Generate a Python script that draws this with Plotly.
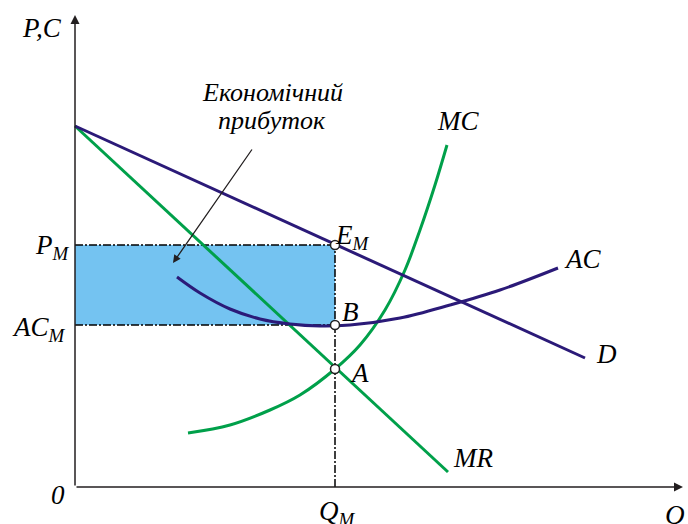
import plotly.graph_objects as go

# ---- data (economic units) ----
q_D = [0.0, 51.0]
p_D = [36.1, 12.9]

q_MR = [0.0, 37.3]
p_MR = [36.1, 1.5]

q_MC = [11.3, 15.5, 19.5, 22.5, 26.0, 28.5, 31.0, 33.0, 34.5, 36.0, 37.2]
p_MC = [5.4, 6.2, 7.7, 9.2, 11.8, 14.2, 17.7, 21.7, 25.7, 30.2, 34.2]

q_AC = [10.2, 12.5, 15.5, 18.5, 21.5, 24.5, 27.5, 32.5, 37.5, 42.5, 48.3]
p_AC = [21.0, 19.4, 17.8, 16.8, 16.3, 16.1, 16.2, 16.9, 18.2, 19.7, 21.9]

Q_M = 26.0
P_M = 24.2
AC_M = 16.2
MR_at_QM = 11.8

point_q = [Q_M, Q_M, Q_M]
point_p = [P_M, AC_M, MR_at_QM]

PURPLE = "#2B1A78"
GREEN = "#00A04A"
FILL = "#74C3F1"
FONT = "Liberation Serif, Times New Roman, DejaVu Serif, serif"

fig = go.Figure()

# profit rectangle
fig.add_shape(type="rect", x0=0, x1=Q_M, y0=AC_M, y1=P_M,
              fillcolor=FILL, line=dict(width=0), layer="below")

# guide lines
dash = "8px,2px,2px,2px"
fig.add_trace(go.Scatter(x=[0, Q_M], y=[P_M, P_M], mode="lines",
                         line=dict(color="black", width=1.5, dash=dash), hoverinfo="skip"))
fig.add_trace(go.Scatter(x=[0, Q_M], y=[AC_M, AC_M], mode="lines",
                         line=dict(color="black", width=1.5, dash=dash), hoverinfo="skip"))
fig.add_trace(go.Scatter(x=[Q_M, Q_M], y=[0, P_M], mode="lines",
                         line=dict(color="black", width=1.5, dash=dash), hoverinfo="skip"))

# curves
fig.add_trace(go.Scatter(x=q_MR, y=p_MR, mode="lines",
                         line=dict(color=GREEN, width=3), name="MR"))
fig.add_trace(go.Scatter(x=q_MC, y=p_MC, mode="lines",
                         line=dict(color=GREEN, width=3, shape="spline", smoothing=1), name="MC"))
fig.add_trace(go.Scatter(x=q_D, y=p_D, mode="lines",
                         line=dict(color=PURPLE, width=3), name="D"))
fig.add_trace(go.Scatter(x=q_AC, y=p_AC, mode="lines",
                         line=dict(color=PURPLE, width=3, shape="spline", smoothing=1), name="AC"))

# points
fig.add_trace(go.Scatter(x=point_q, y=point_p, mode="markers",
                         marker=dict(size=9, color="white", line=dict(color="#222222", width=1.5))))

# axes with arrows
for (x, y) in [(0, 47.2), (60.8, 0)]:
    fig.add_annotation(x=x, y=y, ax=0, ay=0, xref="x", yref="y", axref="x", ayref="y",
                       text="", showarrow=True, arrowhead=2, arrowsize=1.2, arrowwidth=1.5,
                       arrowcolor="#231F20", standoff=0)

# pointer arrow for profit label
fig.add_annotation(x=9.8, y=22.4, ax=17.8, ay=33.9, xref="x", yref="y", axref="x", ayref="y",
                   text="", showarrow=True, arrowhead=2, arrowsize=1.2, arrowwidth=1.3,
                   arrowcolor="#231F20", standoff=0)

big = dict(family=FONT, size=27, color="black", style="italic")
mid = dict(family=FONT, size=26, color="black", style="italic")

labels = [
    ("P,C", -3.3, 45.9, big),
    ("0", -1.7, -0.8, big),
    ("Q", 60.0, -2.8, big),
    ("Q<sub>M</sub>", 26.2, -2.6, big),
    ("P<sub>M</sub>", -2.3, 24.0, big),
    ("AC<sub>M</sub>", -3.6, 15.8, big),
    ("E<sub>M</sub>", 27.7, 25.0, big),
    ("B", 27.5, 17.5, big),
    ("A", 28.4, 11.4, big),
    ("MC", 38.3, 36.6, big),
    ("AC", 50.7, 22.8, big),
    ("D", 53.1, 13.3, big),
    ("MR", 39.8, 2.9, big),
    ("Економічний", 19.7, 39.5, mid),
    ("прибуток", 19.7, 36.7, mid),
]
for t, x, y, f in labels:
    fig.add_annotation(x=x, y=y, xref="x", yref="y", text=t, showarrow=False,
                       font=f, xanchor="center", yanchor="middle")

fig.update_layout(
    width=688, height=524,
    margin=dict(l=0, r=0, t=0, b=0),
    paper_bgcolor="white", plot_bgcolor="white",
    showlegend=False,
    xaxis=dict(range=[-7.5, 61.3], visible=False, fixedrange=True),
    yaxis=dict(range=[-3.7, 48.7], visible=False, fixedrange=True),
)

fig.write_html("out.html", config={"displayModeBar": False},
               post_script="document.body.style.margin='0';document.body.style.overflow='hidden';")
